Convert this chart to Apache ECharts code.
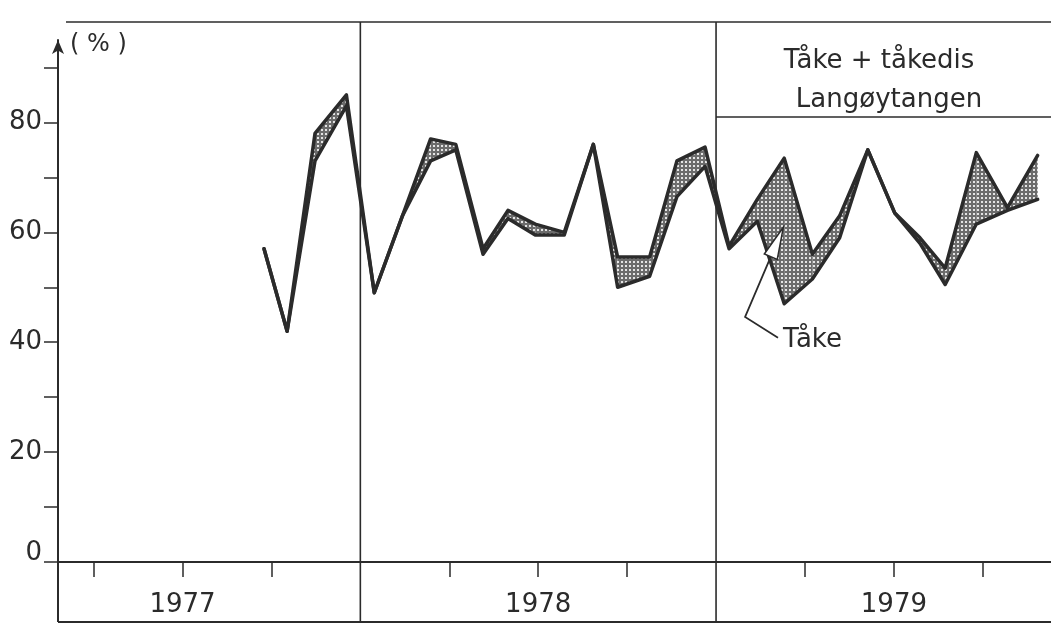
<!DOCTYPE html>
<html><head><meta charset="utf-8">
<script src="https://cdn.jsdelivr.net/npm/echarts@6/dist/echarts.min.js"></script>
<style>html,body{margin:0;background:#fff}#c{width:1051px;height:631px}</style>
</head><body><div id="c"></div>
<script>
// x position of each point, in months since 1 Jan 1977
const months = [8.75, 9.53, 10.47, 11.53, 12.47, 13.42, 14.37, 15.22, 16.14, 16.98, 17.9, 18.88, 19.86, 20.68, 21.76, 22.68, 23.63, 24.44, 25.39, 26.3, 27.25, 28.17, 29.12, 30.03, 30.88, 31.73, 32.78, 33.83, 34.85];
// Tåke + tåkedis (%)
const takeTakedis = [57, 42, 78, 85, 49, 63, 77, 76, 57, 64, 61.5, 60, 76, 55.5, 55.5, 73, 75.5, 57.5, 66, 73.5, 56, 63, 75, 63.5, 59, 53.5, 74.5, 64.5, 74];
// Tåke (%)
const take = [57, 42, 73, 83, 49, 63, 73, 75, 56, 62.5, 59.5, 59.5, 76, 50, 52, 66.5, 72, 57, 62, 47, 51.5, 59, 75, 63.5, 58, 50.5, 61.5, 64, 66];
const yearLabels = ['1977', '1978', '1979'];
const yearCenters = [6, 18, 30];
const yearDividers = [12, 24];
const quarterTicks = [3, 6, 9, 15, 18, 21, 27, 30, 33];
const yTickValues = [0, 10, 20, 30, 40, 50, 60, 70, 80, 90];
const yLabelValues = [0, 20, 40, 60, 80];
const unitLabel = '( % )';
const legendLines = ['Tåke + tåkedis', 'Langøytangen'];
const annotationText = 'Tåke';

const INK = '#2b2b2b';
const FONT = '"DejaVu Sans", sans-serif';

// halftone pattern for the band
const pc = document.createElement('canvas');
pc.width = 4; pc.height = 4;
const pctx = pc.getContext('2d');
pctx.fillStyle = '#6c6c6c'; pctx.fillRect(0, 0, 4, 4);
pctx.fillStyle = '#e4e4e4'; pctx.fillRect(1, 1, 2, 2);

const upperData = months.map((m, i) => [m, takeTakedis[i]]);
const lowerData = months.map((m, i) => [m, take[i]]);

const chart = echarts.init(document.getElementById('c'), null, {renderer: 'canvas'});
chart.setOption({
  animation: false,
  backgroundColor: '#ffffff',
  grid: {left: 58, top: 40, right: 0, bottom: 69, containLabel: false},
  xAxis: {
    type: 'value', min: 1.8, max: 35.3,
    axisLine: {show: true, lineStyle: {color: INK, width: 2}},
    axisTick: {show: true, customValues: quarterTicks, length: 15, lineStyle: {color: INK, width: 1.5}},
    axisLabel: {
      show: true, customValues: yearCenters, margin: 43, verticalAlign: 'middle',
      formatter: v => yearLabels[yearCenters.indexOf(v)] || '',
      color: INK, fontFamily: FONT, fontSize: 26
    },
    splitLine: {show: false}
  },
  yAxis: {
    type: 'value', min: 0, max: 95,
    axisLine: {show: true, symbol: ['none', 'arrow'], symbolSize: [9, 14], lineStyle: {color: INK, width: 2}},
    axisTick: {show: true, customValues: yTickValues, length: 14, lineStyle: {color: INK, width: 1.5}},
    axisLabel: {
      show: true, customValues: yLabelValues, margin: 16,
      formatter: v => (v === 0 ? '{z|0}' : String(v)),
      rich: {z: {color: INK, fontFamily: FONT, fontSize: 26, padding: [0, 0, 18, 0]}},
      color: INK, fontFamily: FONT, fontSize: 26
    },
    splitLine: {show: false}
  },
  series: [
    {
      type: 'custom', silent: true, z: 1,
      data: months.map((m, i) => [m, takeTakedis[i], take[i]]),
      renderItem: function (params, api) {
        const i = params.dataIndex;
        if (i >= months.length - 1) return null;
        const pts = [
          api.coord([months[i], takeTakedis[i]]),
          api.coord([months[i + 1], takeTakedis[i + 1]]),
          api.coord([months[i + 1], take[i + 1]]),
          api.coord([months[i], take[i]])
        ];
        return {type: 'polygon', shape: {points: pts},
          style: {fill: {image: pc, repeat: 'repeat'}, stroke: null}};
      }
    },
    {
      name: 'Tåke + tåkedis', type: 'line', data: upperData, showSymbol: false, z: 3,
      lineStyle: {color: INK, width: 3.5, join: 'round', cap: 'round'}
    },
    {
      name: 'Tåke', type: 'line', data: lowerData, showSymbol: false, z: 3,
      lineStyle: {color: INK, width: 3.5, join: 'round', cap: 'round'}
    }
  ]
});

function px(m, v) { return chart.convertToPixel({gridIndex: 0}, [m, v]); }
const W = 1051;
const base = px(1.8, 0);
const yTop = 22, yBottom = 622, yLegend = 117;
const g = [];
const ls = {stroke: INK, lineWidth: 1.6};
// top frame line
g.push({type: 'line', shape: {x1: 66, y1: yTop, x2: W, y2: yTop}, style: ls});
// bottom year box
g.push({type: 'line', shape: {x1: base[0], y1: base[1], x2: base[0], y2: yBottom}, style: {stroke: INK, lineWidth: 2}});
g.push({type: 'line', shape: {x1: base[0], y1: yBottom, x2: W, y2: yBottom}, style: {stroke: INK, lineWidth: 2}});
// year dividers
yearDividers.forEach(d => {
  const p = px(d, 0);
  g.push({type: 'line', shape: {x1: p[0], y1: yTop, x2: p[0], y2: yBottom}, style: ls});
});
// legend box
const d2 = px(yearDividers[1], 0);
g.push({type: 'line', shape: {x1: d2[0], y1: yLegend, x2: W, y2: yLegend}, style: ls});
g.push({type: 'text', x: 879, y: 61, style: {text: legendLines[0], fill: INK, font: '26px ' + FONT, textAlign: 'center', textVerticalAlign: 'middle'}});
g.push({type: 'text', x: 889, y: 100, style: {text: legendLines[1], fill: INK, font: '26px ' + FONT, textAlign: 'center', textVerticalAlign: 'middle'}});
// unit label
g.push({type: 'text', x: 70, y: 45, style: {text: unitLabel, fill: INK, font: '24px ' + FONT, textAlign: 'left', textVerticalAlign: 'middle'}});
// annotation "Tåke" with pointer
const a1 = px(26.09, 40.8), a2 = px(24.98, 44.6), a3 = px(26.19, 59.9);
g.push({type: 'polyline', z: 10, shape: {points: [a1, a2, a3]}, style: {stroke: INK, lineWidth: 1.8, fill: null}});
const dx = a3[0] - a2[0], dy = a3[1] - a2[1], L = Math.hypot(dx, dy);
const ux = dx / L, uy = dy / L, pxn = -uy, pyn = ux;
const tip = [a3[0] + ux * 6, a3[1] + uy * 6];
const bc = [tip[0] - ux * 32, tip[1] - uy * 32];
g.push({type: 'polygon', z: 11, shape: {points: [tip, [bc[0] + pxn * 7, bc[1] + pyn * 7], [bc[0] - pxn * 7, bc[1] - pyn * 7]]},
  style: {fill: '#ffffff', stroke: INK, lineWidth: 1.5}});
const tp = px(26.26, 40.4);
g.push({type: 'text', x: tp[0], y: tp[1], style: {text: annotationText, fill: INK, font: '26px ' + FONT, textAlign: 'left', textVerticalAlign: 'middle'}});
chart.setOption({graphic: g});
</script>
</body></html>
